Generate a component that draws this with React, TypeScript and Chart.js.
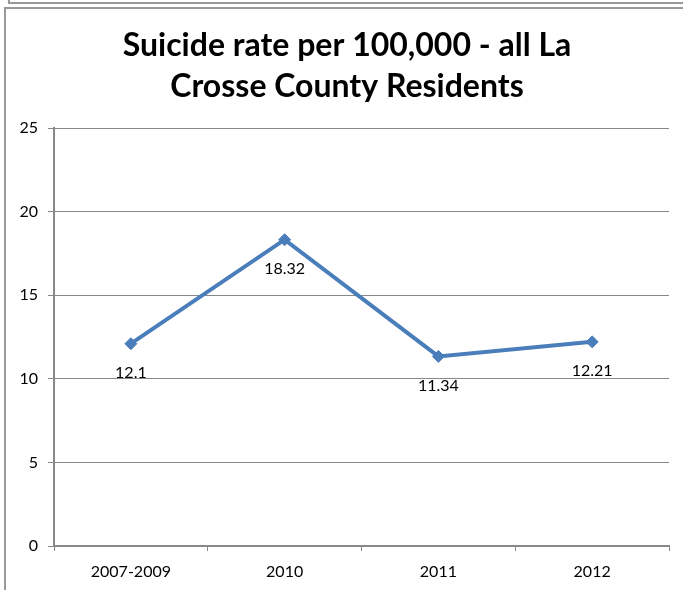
import React, { useEffect, useRef } from "react";
import { Chart, registerables } from "chart.js";

Chart.register(...registerables);

const categories = ["2007-2009", "2010", "2011", "2012"];
const rates = [12.1, 18.32, 11.34, 12.21];
const titleLines = ["Suicide rate per 100,000 - all La", "Crosse County Residents"];
const yMin = 0;
const yMax = 25;
const yStep = 5;

const FONT = "Lato, 'Open Sans', 'DejaVu Sans', sans-serif";
const GRID = "#888888";
const BLUE = "#4A7EBB";

const titlePlugin = {
  id: "customTitle",
  afterDraw(chart: any) {
    const ctx = chart.ctx;
    ctx.save();
    ctx.fillStyle = "#000";
    ctx.font = `bold 32px ${FONT}`;
    ctx.textAlign = "center";
    ctx.textBaseline = "middle";
    const cx = 347;
    titleLines.forEach((line, i) => ctx.fillText(line, cx, 46 + i * 41));
    ctx.restore();
  },
};

const labelPlugin = {
  id: "pointLabels",
  afterDatasetsDraw(chart: any) {
    const ctx = chart.ctx;
    const meta = chart.getDatasetMeta(0);
    ctx.save();
    ctx.fillStyle = "#000";
    ctx.font = `16px ${FONT}`;
    ctx.textAlign = "center";
    ctx.textBaseline = "middle";
    meta.data.forEach((pt: any, i: number) => {
      ctx.fillText(String(rates[i]), pt.x, pt.y + 29);
    });
    ctx.restore();
  },
};

export default function App() {
  const ref = useRef<HTMLCanvasElement>(null);
  useEffect(() => {
    document.body.style.margin = "0";
    const chart = new Chart(ref.current!, {
      type: "line",
      data: {
        labels: categories,
        datasets: [
          {
            data: rates,
            borderColor: BLUE,
            backgroundColor: BLUE,
            borderWidth: 4,
            pointStyle: "rectRot",
            pointRadius: 6,
            pointBorderWidth: 1,
            pointBorderColor: BLUE,
            pointBackgroundColor: BLUE,
            tension: 0,
          },
        ],
      },
      options: {
        animation: false,
        responsive: false,
        maintainAspectRatio: false,
        layout: { padding: { left: 0, top: 128, right: 14, bottom: 0 } },
        plugins: {
          legend: { display: false },
          title: { display: false },
          tooltip: { enabled: false },
        },
        scales: {
          x: {
            type: "category",
            offset: true,
            grid: {
              offset: true,
              drawOnChartArea: false,
              drawTicks: true,
              tickLength: 5,
              color: GRID,
              lineWidth: 1,
            },
            border: { display: true, color: GRID, width: 2 },
            ticks: { color: "#000", font: { family: FONT, size: 16 }, padding: 11, maxRotation: 0 },
            afterFit(scale: any) {
              scale.height = 44;
            },
          },
          y: {
            min: yMin,
            max: yMax,
            grid: { color: GRID, lineWidth: 1, tickLength: 6, drawTicks: true },
            border: { display: true, color: GRID, width: 2 },
            ticks: { stepSize: yStep, color: "#000", font: { family: FONT, size: 16 }, padding: 10 },
            afterFit(scale: any) {
              scale.width = 54;
            },
          },
        },
      },
      plugins: [titlePlugin, labelPlugin],
    });
    return () => chart.destroy();
  }, []);

  return (
    <div style={{ position: "absolute", left: 0, top: 0, width: 683, height: 590, overflow: "hidden", background: "#fff" }}>
      <div style={{ position: "absolute", left: 8, top: -10, width: 700, height: 12, borderLeft: "2px solid #999", borderBottom: "2px solid #999" }} />
      <div style={{ position: "absolute", left: 4, top: 7, width: 700, height: 600, borderLeft: "2px solid #999", borderTop: "2px solid #999" }} />
      <canvas ref={ref} width={683} height={590} style={{ position: "absolute", left: 0, top: 0, width: 683, height: 590 }} />
    </div>
  );
}
